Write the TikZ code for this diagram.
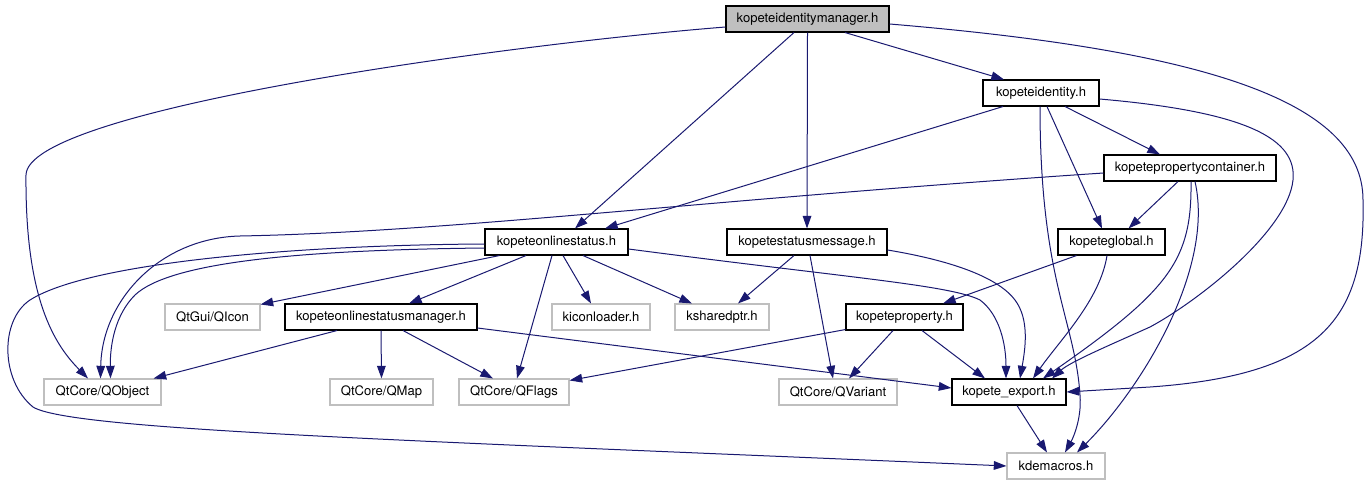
\documentclass[tikz,border=0pt]{standalone}
\usepackage{fontspec}
\setmainfont{TeX Gyre Heros}
\usetikzlibrary{arrows.meta,calc}
\definecolor{edgeblue}{HTML}{191970}
\definecolor{extgray}{HTML}{BFBFBF}
\begin{document}
\begin{tikzpicture}[x=0.75pt,y=-0.75pt,
  hdr/.style={draw=black, line width=0.8pt, inner sep=0pt, minimum height=19.5pt, font=\fontsize{9.8}{11}\selectfont, text=black},
  exthdr/.style={hdr, draw=extgray},
  rootbox/.style={hdr, fill=extgray},
  dep/.style={draw=edgeblue, line width=0.75pt, -{Triangle[length=9.5pt,width=6.5pt]}}]
\useasboundingbox (0,0) rectangle (1371,485);
% nodes
\node[rootbox, minimum width=122.25pt] (mgr) at (807.5,19) {kopeteidentitymanager.h};
\node[hdr, minimum width=87pt] (ident) at (1041,93) {kopeteidentity.h};
\node[hdr, minimum width=129pt] (pcont) at (1190,168) {kopetepropertycontainer.h};
\node[hdr, minimum width=80.25pt] (glob) at (1111.5,242) {kopeteglobal.h};
\node[hdr, minimum width=107.25pt] (onl) at (556.5,242) {kopeteonlinestatus.h};
\node[hdr, minimum width=120pt] (smsg) at (807,242) {kopetestatusmessage.h};
\node[exthdr, minimum width=71.25pt] (qicon) at (212.5,317) {QtGui/QIcon};
\node[hdr, minimum width=144pt] (onlmgr) at (381,317) {kopeteonlinestatusmanager.h};
\node[exthdr, minimum width=73.5pt] (kicon) at (601,317) {kiconloader.h};
\node[exthdr, minimum width=70.5pt] (kshared) at (722,317) {ksharedptr.h};
\node[hdr, minimum width=87.75pt] (prop) at (904.5,317) {kopeteproperty.h};
\node[exthdr, minimum width=87.75pt] (qobj) at (102.5,392) {QtCore/QObject};
\node[exthdr, minimum width=77.25pt] (qmap) at (381.5,392) {QtCore/QMap};
\node[exthdr, minimum width=82.5pt] (qflags) at (514,392) {QtCore/QFlags};
\node[exthdr, minimum width=88.5pt] (qvar) at (838,392) {QtCore/QVariant};
\node[hdr, minimum width=85.5pt] (kexp) at (1009,392) {kopete\_export.h};
\node[exthdr, minimum width=73.5pt] (kdem) at (1056,466) {kdemacros.h};
% edges from kopeteidentitymanager.h
\draw[dep] ($(mgr.west)+(0,8)$) .. controls (500,45) and (27,110) .. (26,175) .. controls (25,300) and (55,345) .. ($(qobj.north)+(-14.5,0)$);
\draw[dep] ($(mgr.south)+(-13.5,0)$) -- ($(onl.north)+(18.5,0)$);
\draw[dep] (mgr.south) -- (smsg.north);
\draw[dep] ($(mgr.south)+(37.5,0)$) -- ($(ident.north)+(-37,0)$);
\draw[dep] ($(mgr.east)+(0,5)$) .. controls (1200,50) and (1363,100) .. (1363,200) .. controls (1366,320) and (1320,375) .. (1150,387) -- (kexp.east);
% edges from kopeteidentity.h
\draw[dep] ($(ident.south)+(-38,0)$) -- ($(onl.north)+(48.5,0)$);
\draw[dep] ($(ident.south)+(24,0)$) -- ($(pcont.north)+(-30,0)$);
\draw[dep] ($(ident.south)+(6,0)$) -- ($(glob.north)+(-9.5,0)$);
\draw[dep] ($(ident.south)+(-1,0)$) .. controls (1040,280) and (1075,320) .. (1080,395) .. controls (1082,420) and (1072,440) .. ($(kdem.north)+(9,0)$);
\draw[dep] ($(ident.east)+(0,6)$) .. controls (1250,112) and (1297,140) .. (1293,180) .. controls (1288,230) and (1200,300) .. (1150,327) .. controls (1110,345) and (1070,362) .. ($(kexp.north)+(43,0)$);
% edges from kopetepropertycontainer.h
\draw[dep] ($(pcont.west)+(0,5)$) .. controls (700,200) and (450,232) .. (240,236) .. controls (160,238) and (102,300) .. ($(qobj.north)+(-2,0)$);
\draw[dep] ($(pcont.south)+(-12,0)$) -- ($(glob.north)+(17,0)$);
\draw[dep] ($(pcont.south)+(1,0)$) .. controls (1192,260) and (1170,290) .. ($(kexp.north)+(34,0)$);
\draw[dep] ($(pcont.south)+(5,0)$) .. controls (1215,270) and (1140,390) .. ($(kdem.north)+(21,0)$);
% edges from kopeteonlinestatus.h
\draw[dep] ($(onl.west)+(0,6)$) .. controls (300,250) and (170,262) .. (135,295) .. controls (115,315) and (110,345) .. ($(qobj.north)+(8,0)$);
\draw[dep] ($(onl.west)+(0,2)$) .. controls (300,245) and (90,262) .. (30,300) .. controls (0,320) and (0,380) .. (33,407) .. controls (70,430) and (400,440) .. (kdem.west);
\draw[dep] ($(onl.south west)+(15,0)$) -- ($(qicon.north east)+(0,1)$);
\draw[dep] ($(onl.south)+(-30.5,0)$) -- ($(onlmgr.north)+(28,0)$);
\draw[dep] ($(onl.south)+(-4.5,0)$) -- ($(qflags.north)+(3,0)$);
\draw[dep] ($(onl.south)+(6.5,0)$) -- ($(kicon.north)+(-10,0)$);
\draw[dep] ($(onl.south)+(26.5,0)$) -- ($(kshared.north)+(-30,0)$);
\draw[dep] ($(onl.east)+(0,7)$) .. controls (850,278) and (950,285) .. (980,300) .. controls (1000,315) and (1006,345) .. ($(kexp.north)+(-3,0)$);
% edges from kopeteonlinestatusmanager.h
\draw[dep] ($(onlmgr.south)+(-44,0)$) -- ($(qobj.north east)+(-8,0)$);
\draw[dep] (onlmgr.south) -- (qmap.north);
\draw[dep] ($(onlmgr.south)+(22,0)$) -- ($(qflags.north)+(-21,0)$);
\draw[dep] ($(onlmgr.east)+(0,11)$) -- ($(kexp.west)+(0,-4)$);
% edges from kopetestatusmessage.h
\draw[dep] ($(smsg.south)+(-13,0)$) -- ($(kshared.north)+(16,0)$);
\draw[dep] ($(smsg.south)+(3,0)$) -- ($(qvar.north)+(-5,0)$);
\draw[dep] ($(smsg.east)+(0,8)$) .. controls (960,262) and (1000,280) .. (1015,300) .. controls (1030,320) and (1025,350) .. ($(kexp.north)+(11,0)$);
% edges from kopeteproperty.h
\draw[dep] ($(prop.south west)+(0,-1)$) -- ($(qflags.north east)+(0,2)$);
\draw[dep] ($(prop.south)+(-11.5,0)$) -- ($(qvar.north)+(11,0)$);
\draw[dep] ($(prop.south)+(17.5,0)$) -- ($(kexp.north)+(-24,0)$);
% edges from kopeteglobal.h
\draw[dep] ($(glob.south)+(-35,0)$) -- ($(prop.north)+(38.5,0)$);
\draw[dep] ($(glob.south)+(-4.5,0)$) .. controls (1100,300) and (1060,340) .. ($(kexp.north)+(24,0)$);
% edge from kopete_export.h
\draw[dep] ($(kexp.south)+(8,0)$) -- ($(kdem.north)+(-9,0)$);
\end{tikzpicture}
\end{document}
